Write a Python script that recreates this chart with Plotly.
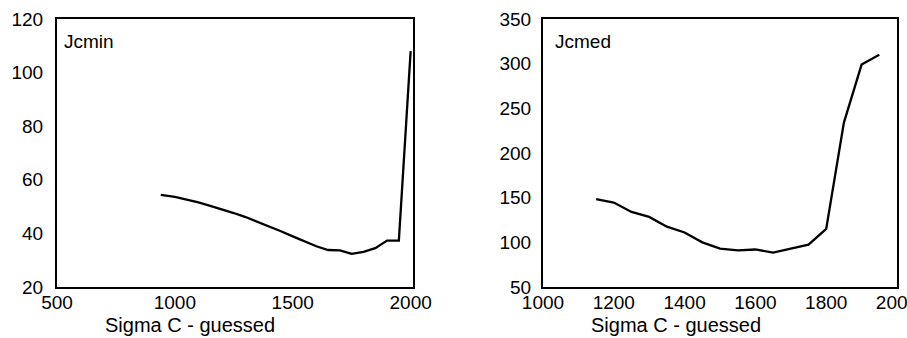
import plotly.graph_objects as go
from plotly.subplots import make_subplots

# Left panel: Jcmin vs Sigma C - guessed
sigma_min = [940, 1000, 1050, 1100, 1150, 1200, 1250, 1300, 1350, 1400, 1450,
             1500, 1550, 1600, 1650, 1700, 1750, 1800, 1850, 1900, 1950, 2000]
jcmin = [54.4, 53.6, 52.6, 51.6, 50.3, 49.0, 47.6, 46.1, 44.4, 42.6, 40.8,
         38.9, 37.0, 35.2, 33.8, 33.7, 32.4, 33.1, 34.5, 37.3, 37.3, 108.0]

# Right panel: Jcmed vs Sigma C - guessed
sigma_med = [1150, 1200, 1250, 1300, 1350, 1400, 1450, 1500, 1550, 1600,
             1650, 1700, 1750, 1800, 1850, 1900, 1950]
jcmed = [148.5, 144.5, 134, 128.5, 117.5, 111, 100, 93, 91, 92,
         88.5, 93, 97.5, 115, 234, 299, 310]

left_xticks = [500, 1000, 1500, 2000]
left_yticks = [20, 40, 60, 80, 100, 120]
right_xticks = [1000, 1200, 1400, 1600, 1800, 2000]
right_yticks = [50, 100, 150, 200, 250, 300, 350]

FONT = "Liberation Sans, Arial, sans-serif"

W, H = 907, 338
box_l1, box_r1 = 57, 413
box_l2, box_r2 = 543, 897
box_t, box_b = 19, 287
ml, mt = box_l1, box_t
mr = W - box_r2
mb = H - box_b
pw = W - ml - mr
ph = H - mt - mb


def px_x(p):
    return (p - ml) / pw


def px_y(p):
    return 1 - (p - mt) / ph


fig = make_subplots(rows=1, cols=2)
fig.add_trace(go.Scatter(x=sigma_min, y=jcmin, mode="lines",
                         line=dict(color="black", width=2.3)), row=1, col=1)
fig.add_trace(go.Scatter(x=sigma_med, y=jcmed, mode="lines",
                         line=dict(color="black", width=2.3)), row=1, col=2)

axis_common = dict(showline=True, linecolor="black", linewidth=2, mirror=True,
                   showgrid=False, zeroline=False, ticks="",
                   tickfont=dict(family=FONT, size=19, color="black"),
                   automargin=False)

fig.update_layout(
    width=W, height=H, template="none",
    margin=dict(l=ml, r=mr, t=mt, b=mb),
    paper_bgcolor="white", plot_bgcolor="white",
    showlegend=False,
    xaxis=dict(domain=[0, (box_r1 - box_l1) / pw], range=[500, 2010],
               tickvals=left_xticks, ticklabelstandoff=-3,
               ticklabeloverflow="allow", **axis_common),
    yaxis=dict(range=[20, 120], tickvals=left_yticks, ticklabelstandoff=8,
               **axis_common),
    xaxis2=dict(domain=[(box_l2 - box_l1) / pw, 1], range=[1000, 2000],
                tickvals=right_xticks, ticklabelstandoff=-3,
                ticklabeloverflow="allow", **axis_common),
    yaxis2=dict(range=[50, 350], tickvals=right_yticks, ticklabelstandoff=6,
                **axis_common),
)

ann_font = dict(family=FONT, size=19, color="black")
title_font = dict(family=FONT, size=20, color="black")
fig.add_annotation(text="Jcmin", xref="paper", yref="paper",
                   x=px_x(62), y=px_y(42),
                   xanchor="left", yanchor="middle", showarrow=False, font=ann_font)
fig.add_annotation(text="Jcmed", xref="paper", yref="paper",
                   x=px_x(553), y=px_y(42),
                   xanchor="left", yanchor="middle", showarrow=False, font=ann_font)
fig.add_annotation(text="Sigma C - guessed", xref="paper", yref="paper",
                   x=px_x(190), y=px_y(325),
                   xanchor="center", yanchor="middle", showarrow=False, font=title_font)
fig.add_annotation(text="Sigma C - guessed", xref="paper", yref="paper",
                   x=px_x(676), y=px_y(325),
                   xanchor="center", yanchor="middle", showarrow=False, font=title_font)

fig.write_html(
    "out.html",
    config={"displayModeBar": False},
    post_script="document.body.style.margin='0';document.body.style.overflow='hidden';",
)
